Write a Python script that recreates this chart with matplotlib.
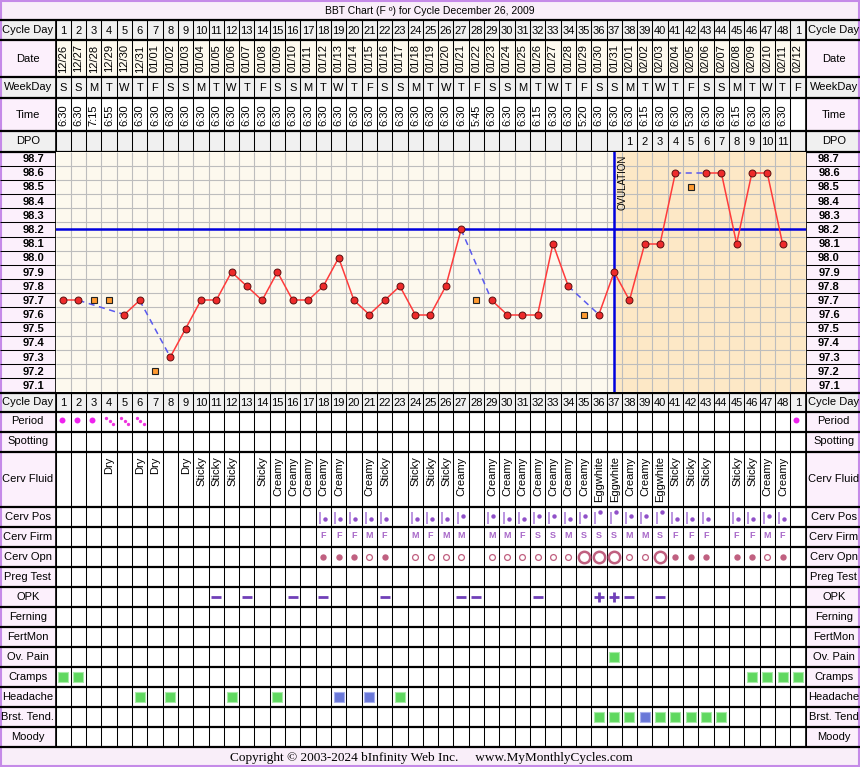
import matplotlib
matplotlib.use('Agg')
import matplotlib.pyplot as plt
from matplotlib.patches import Rectangle
import numpy as np

plt.rcParams['font.family'] = ['Liberation Sans', 'DejaVu Sans']

# ---- values ----
cycle_days = ['1', '2', '3', '4', '5', '6', '7', '8', '9', '10', '11', '12', '13', '14', '15', '16',
              '17', '18', '19', '20', '21', '22', '23', '24', '25', '26', '27', '28', '29', '30', '31',
              '32', '33', '34', '35', '36', '37', '38', '39', '40', '41', '42', '43', '44', '45', '46',
              '47', '48', '1']
dates = ['12/26', '12/27', '12/28', '12/29', '12/30', '12/31', '01/01', '01/02', '01/03', '01/04',
         '01/05', '01/06', '01/07', '01/08', '01/09', '01/10', '01/11', '01/12', '01/13', '01/14',
         '01/15', '01/16', '01/17', '01/18', '01/19', '01/20', '01/21', '01/22', '01/23', '01/24',
         '01/25', '01/26', '01/27', '01/28', '01/29', '01/30', '01/31', '02/01', '02/02', '02/03',
         '02/04', '02/05', '02/06', '02/07', '02/08', '02/09', '02/10', '02/11', '02/12']
weekdays = ['S', 'S', 'M', 'T', 'W', 'T', 'F', 'S', 'S', 'M', 'T', 'W', 'T', 'F', 'S', 'S', 'M',
            'T', 'W', 'T', 'F', 'S', 'S', 'M', 'T', 'W', 'T', 'F', 'S', 'S', 'M', 'T', 'W', 'T',
            'F', 'S', 'S', 'M', 'T', 'W', 'T', 'F', 'S', 'S', 'M', 'T', 'W', 'T', 'F']
times = ['6:30', '6:30', '7:15', '6:55', '6:30', '6:30', '6:30', '6:30', '6:30', '6:30', '6:30',
         '6:30', '6:30', '6:30', '6:30', '6:30', '6:30', '6:30', '6:30', '6:30', '6:30', '6:30',
         '6:30', '6:30', '6:30', '6:30', '6:30', '5:45', '6:30', '6:30', '6:30', '6:15', '6:30',
         '6:30', '5:20', '6:30', '6:30', '6:30', '6:15', '6:30', '6:30', '5:30', '6:30', '6:30',
         '6:15', '6:30', '6:30', '6:30', '']
dpo = [''] * 37 + ['1', '2', '3', '4', '5', '6', '7', '8', '9', '10', '11', '']

temps = [97.7, 97.7, None, None, 97.6, 97.7, None, 97.3, 97.5, 97.7,
         97.7, 97.9, 97.8, 97.7, 97.9, 97.7, 97.7, 97.8, 98.0, 97.7,
         97.6, 97.7, 97.8, 97.6, 97.6, 97.8, 98.2, None, 97.7, 97.6,
         97.6, 97.6, 98.1, 97.8, None, 97.6, 97.9, 97.7, 98.1, 98.1,
         98.6, None, 98.6, 98.6, 98.1, 98.6, 98.6, 98.1, None]
excluded_days = [3, 4, 7, 28, 35, 42]
excluded_temps = [97.7, 97.7, 97.2, 97.7, 97.6, 98.5]
temp_labels = [98.7, 98.6, 98.5, 98.4, 98.3, 98.2, 98.1, 98.0, 97.9,
               97.8, 97.7, 97.6, 97.5, 97.4, 97.3, 97.2, 97.1]
cover_line = 98.2
ovulation_day = 37

period_days = [1, 2, 3, 4, 5, 6, 49]
period_flow = ['H', 'H', 'H', 'L', 'L', 'L', 'H']

fluid_days = [4, 6, 7, 9, 10, 11, 12, 14, 15, 16, 17, 18, 19, 21, 22, 24, 25, 26, 27,
              29, 30, 31, 32, 33, 34, 35, 36, 37, 38, 39, 40, 41, 42, 43, 45, 46, 47, 48]
fluid_types = ['Dry', 'Dry', 'Dry', 'Dry', 'Sticky', 'Sticky', 'Sticky', 'Sticky', 'Creamy',
               'Creamy', 'Creamy', 'Creamy', 'Creamy', 'Creamy', 'Sticky', 'Sticky', 'Sticky',
               'Sticky', 'Creamy', 'Creamy', 'Creamy', 'Creamy', 'Creamy', 'Creamy', 'Creamy',
               'Creamy', 'Eggwhite', 'Eggwhite', 'Creamy', 'Creamy', 'Eggwhite', 'Sticky',
               'Sticky', 'Sticky', 'Sticky', 'Sticky', 'Creamy', 'Creamy']

cerv_days = [18, 19, 20, 21, 22, 24, 25, 26, 27, 29, 30, 31, 32, 33, 34, 35, 36, 37, 38,
             39, 40, 41, 42, 43, 45, 46, 47, 48]
cerv_pos = ['L', 'L', 'L', 'L', 'L', 'L', 'L', 'L', 'M', 'M', 'L', 'L', 'M', 'M', 'L', 'M',
            'H', 'H', 'M', 'M', 'H', 'L', 'L', 'L', 'L', 'L', 'M', 'L']
cerv_firm = ['F', 'F', 'F', 'M', 'F', 'M', 'F', 'M', 'M', 'M', 'M', 'F', 'S', 'S', 'M', 'S',
             'S', 'S', 'M', 'M', 'S', 'F', 'F', 'F', 'F', 'F', 'M', 'F']
cerv_opn = ['C', 'C', 'C', 'O', 'C', 'O', 'O', 'O', 'O', 'O', 'O', 'O', 'O', 'O', 'O', 'W',
            'W', 'W', 'O', 'O', 'W', 'C', 'C', 'C', 'C', 'C', 'O', 'C']

opk_days = [11, 13, 16, 18, 22, 27, 28, 32, 36, 37, 38, 40]
opk_results = ['-', '-', '-', '-', '-', '-', '-', '-', '+', '+', '-', '-']

ov_pain_days = [37]
cramps_days = [1, 2, 46, 47, 48, 49]
headache_days = [6, 8, 12, 15, 19, 21, 23]
headache_level = ['g', 'g', 'g', 'g', 'b', 'b', 'g']
breast_days = [36, 37, 38, 39, 40, 41, 42, 43, 44]
breast_level = ['g', 'g', 'g', 'b', 'g', 'g', 'g', 'g', 'g']

# ---- layout (pixels) ----
W, H = 860, 767
X0, X1 = 55.5, 805.5
NCOL = len(cycle_days)
CW = (X1 - X0) / NCOL
TEMP_TOP, TEMP_BOT = 151.5, 392.5

PINK = '#fcf0fc'
GRAY = '#f0f0f0'
CREAM = '#fdf9ee'
TXT = 8


def cx(day):
    return X0 + (day - 0.5) * CW


header_rows = [('Cycle Day', 20, 40, GRAY, GRAY),
               ('Date', 40, 77, PINK, CREAM),
               ('WeekDay', 77, 98, GRAY, GRAY),
               ('Time', 98, 131, PINK, 'white'),
               ('DPO', 131, TEMP_TOP, GRAY, GRAY)]

bottom_names = ['Cycle Day', 'Period', 'Spotting', 'Cerv Fluid', 'Cerv Pos', 'Cerv Firm',
                'Cerv Opn', 'Preg Test', 'OPK', 'Ferning', 'FertMon', 'Ov. Pain', 'Cramps',
                'Headache', 'Brst. Tend.', 'Moody']
bottom_heights = [19, 20, 20, 55, 20, 20, 20, 20, 20, 20, 20, 20, 20, 20, 20, 20]
bottom_rows = {}
y = TEMP_BOT
for name, h in zip(bottom_names, bottom_heights):
    bottom_rows[name] = (y, y + h)
    y += h
TABLE_BOT = y

fig = plt.figure(figsize=(W / 100, H / 100), dpi=100)
ax = fig.add_axes([0, 0, 1, 1])
ax.set_xlim(0, W)
ax.set_ylim(H, 0)
ax.axis('off')

# title / footer
ax.add_patch(Rectangle((0, 0), W, 20, fc='#f9eef9', ec='none'))
ax.add_patch(Rectangle((0, TABLE_BOT), W, H - TABLE_BOT, fc='#f9eef9', ec='none'))
ax.text(W / 2, 10.5, 'BBT Chart (F º) for Cycle December 26, 2009', ha='center', va='center',
        fontsize=7.5)
ax.text(431, 757.5, 'Copyright © 2003-2024 bInfinity Web Inc.     www.MyMonthlyCycles.com',
        ha='center', va='center', fontsize=9.5, family='Liberation Serif')

col_edges = X0 + np.arange(NCOL + 1) * CW


def row_frame(label, top, bot, lab_bg, cell_bg, right_label=None):
    ax.add_patch(Rectangle((0, top), X0, bot - top, fc=lab_bg, ec='none'))
    ax.add_patch(Rectangle((X1, top), W - X1, bot - top, fc=lab_bg, ec='none'))
    ax.add_patch(Rectangle((X0, top), X1 - X0, bot - top, fc=cell_bg, ec='none'))
    ax.vlines(col_edges, top, bot, color='black', lw=0.75)
    ax.text(X0 / 2, (top + bot) / 2, label, ha='center', va='center', fontsize=TXT)
    ax.text((X1 + W) / 2 + 1, (top + bot) / 2, right_label or label, ha='center', va='center',
            fontsize=TXT)


for label, top, bot, lab_bg, cell_bg in header_rows:
    row_frame(label, top, bot, lab_bg, cell_bg)

for i in range(NCOL):
    d = i + 1
    ax.text(cx(d), 30.5, cycle_days[i], ha='center', va='center', fontsize=TXT)
    ax.text(cx(d), 58.5, dates[i], ha='center', va='center', rotation=90, fontsize=TXT)
    ax.text(cx(d), 88, weekdays[i], ha='center', va='center', fontsize=TXT)
    ax.text(cx(d), 115, times[i], ha='center', va='center', rotation=90, fontsize=TXT)
    ax.text(cx(d), 142, dpo[i], ha='center', va='center', fontsize=TXT)

# bottom table
for name in bottom_names:
    top, bot = bottom_rows[name]
    bg = GRAY if name == 'Cycle Day' else PINK
    cell = GRAY if name == 'Cycle Day' else 'white'
    row_frame(name, top, bot, bg, cell, 'Brst. Tend' if name == 'Brst. Tend.' else None)

top, bot = bottom_rows['Cycle Day']
for i in range(NCOL):
    ax.text(cx(i + 1), (top + bot) / 2 + 0.5, cycle_days[i], ha='center', va='center',
            fontsize=TXT)

top, bot = bottom_rows['Period']
for d, f in zip(period_days, period_flow):
    if f == 'H':
        ax.plot(cx(d) - 1.5, top + 8.5, 'o', ms=4.3, color='#ee22ee', mec='none')
    else:
        ax.plot(cx(d) + np.array([-3, 0.5, 4]), top + 8.5 + np.array([-2.5, 0.5, 3.5]), 'o',
                ms=2.4, color='#ee33dd', mec='none')

top, bot = bottom_rows['Cerv Fluid']
for d, t in zip(fluid_days, fluid_types):
    ax.text(cx(d) + 0.5, top + 5, t, ha='center', va='top', rotation=90, fontsize=TXT)

top, bot = bottom_rows['Cerv Pos']
pos_offset = {'L': 12.5, 'M': 9.2, 'H': 5.8}
for d, p in zip(cerv_days, cerv_pos):
    ax.vlines(cx(d) - 3.5, top + 5, top + 17, color='#a878d8', lw=1.1)
    ax.plot(cx(d) + 1.5, top + pos_offset[p], 'o', ms=3.2, color='#9050c8', mec='none')

top, bot = bottom_rows['Cerv Firm']
for d, f in zip(cerv_days, cerv_firm):
    ax.text(cx(d), top + 8.5, f, ha='center', va='center', fontsize=6.5, fontweight='bold',
            color='#a868c8')

top, bot = bottom_rows['Cerv Opn']
for d, o in zip(cerv_days, cerv_opn):
    if o == 'C':
        ax.plot(cx(d), top + 10, 'o', ms=4.6, color='#c06080', mec='none')
    elif o == 'O':
        ax.plot(cx(d), top + 10, 'o', ms=4.2, mfc='white', mec='#c06080', mew=0.9)
    else:
        ax.plot(cx(d), top + 10, 'o', ms=8.2, mfc='white', mec='#c06080', mew=1.8)

top, bot = bottom_rows['OPK']
for d, r in zip(opk_days, opk_results):
    ax.plot(cx(d), top + 10, '_' if r == '-' else '+', ms=7.5, mew=2, color='#7040b8')


def squares(row, days, levels=None):
    top, bot = bottom_rows[row]
    if levels is None:
        levels = ['g'] * len(days)
    for d, lv in zip(days, levels):
        fc = '#5fd85f' if lv == 'g' else '#6a78d8'
        ec = '#a8eca8' if lv == 'g' else '#a8b0ee'
        ax.add_patch(Rectangle((cx(d) - 5, top + 5), 10, 10, fc=fc, ec=ec, lw=0.8))


squares('Ov. Pain', ov_pain_days)
squares('Cramps', cramps_days)
squares('Headache', headache_days, headache_level)
squares('Brst. Tend.', breast_days, breast_level)

# label columns of the temperature block
temp_row_h = (TEMP_BOT - TEMP_TOP) / len(temp_labels)
ax.add_patch(Rectangle((0, TEMP_TOP), X0, TEMP_BOT - TEMP_TOP, fc=PINK, ec='none'))
ax.add_patch(Rectangle((X1, TEMP_TOP), W - X1, TEMP_BOT - TEMP_TOP, fc=PINK, ec='none'))
for k, t in enumerate(temp_labels):
    yc = TEMP_TOP + (k + 0.5) * temp_row_h
    ax.text(44, yc + 0.5, f'{t:.1f}', ha='right', va='center', fontsize=8, fontweight='bold')
    ax.text(829, yc + 0.5, f'{t:.1f}', ha='center', va='center', fontsize=8, fontweight='bold')
edges_y = TEMP_TOP + np.arange(1, len(temp_labels)) * temp_row_h
ax.hlines(edges_y, 0, X0, color='black', lw=0.75)
ax.hlines(edges_y, X1, W, color='black', lw=0.75)

# row separators and borders
sep = [20, 40, 77, 98, 131, TEMP_TOP, TEMP_BOT] + [bottom_rows[n][1] for n in bottom_names]
ax.hlines(sep, 0, W, color='black', lw=1.6)
ax.vlines([X0, X1], 20, TABLE_BOT, color='black', lw=1.2)
ax.add_patch(Rectangle((0.8, 0.8), W - 1.6, H - 1.6, fc='none', ec='#c58ae8', lw=1.5))

# ---- temperature chart ----
tax = fig.add_axes([X0 / W, 1 - TEMP_BOT / H, (X1 - X0) / W, (TEMP_BOT - TEMP_TOP) / H])
lo, hi = min(temp_labels) - 0.05, max(temp_labels) + 0.05
tax.set_xlim(0.5, NCOL + 0.5)
tax.set_ylim(lo, hi)
tax.axis('off')
tax.axvspan(0.5, ovulation_day, color=CREAM, lw=0)
tax.axvspan(ovulation_day, NCOL + 0.5, color='#fde8c6', lw=0)
tax.vlines(np.arange(1, NCOL) + 0.5, lo, hi, color='#bdbdbd', lw=0.8)
tax.hlines(np.array(temp_labels[:-1]) - 0.05, 0.5, NCOL + 0.5, color='#bdbdbd', lw=0.8)
tax.axhline(cover_line, color='#0000dd', lw=1.8)
tax.axvline(ovulation_day, color='#0000dd', lw=1.8)
tax.text(ovulation_day + 0.2, hi - 0.02, 'OVULATION', rotation=90, ha='left', va='top',
         fontsize=7)

valid = [(i + 1, t) for i, t in enumerate(temps) if t is not None]
for (d1, t1), (d2, t2) in zip(valid[:-1], valid[1:]):
    if d2 - d1 == 1:
        tax.plot([d1, d2], [t1, t2], color='#ff3b3b', lw=1.1)
    else:
        tax.plot([d1, d2], [t1, t2], color='#5a5aee', lw=1.1, dashes=(4, 3))
tax.plot([d for d, _ in valid], [t for _, t in valid], 'o', ms=5, mfc='#ee2a2a', mec='#5a1010',
         mew=0.7)
tax.plot(excluded_days, excluded_temps, 's', ms=4.6, mfc='#ff9a30', mec='#222222', mew=0.8)

fig.savefig('out.png', dpi=100)
